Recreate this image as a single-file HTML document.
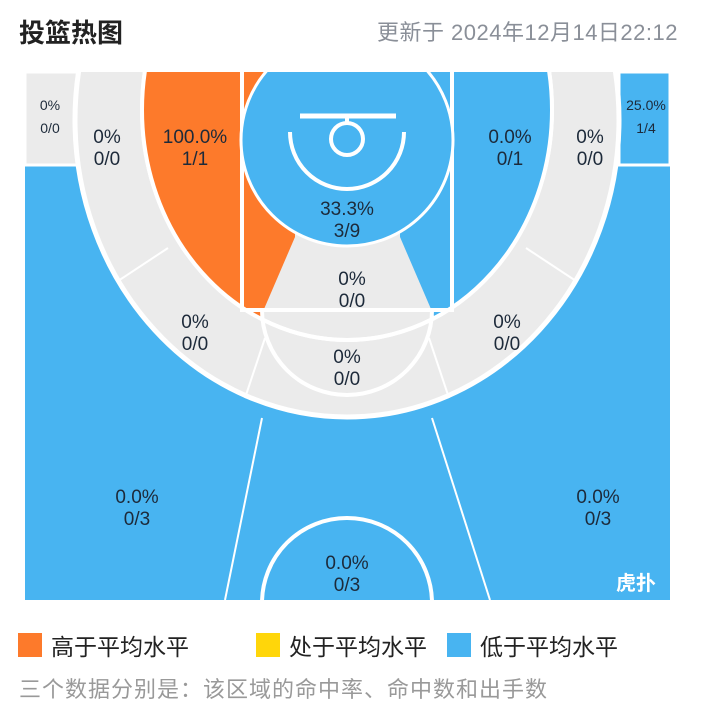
<!DOCTYPE html>
<html><head><meta charset="utf-8"><style>
body{margin:0;width:708px;height:707px;background:#fff;overflow:hidden;font-family:"Liberation Sans","Noto Sans CJK SC",sans-serif;}
.title{position:absolute;left:19px;top:13px;font-size:26px;font-weight:bold;color:#222;}
.upd{position:absolute;right:30px;top:15px;font-size:22px;color:#8a8f98;letter-spacing:0.5px;}
.leg{position:absolute;top:628px;font-size:23px;color:#222;display:flex;align-items:center;}
.sw{width:24px;height:24px;margin-right:9px;}
.note{position:absolute;left:19px;top:672px;font-size:22px;color:#999;letter-spacing:1px;}
</style></head><body>
<div class="title">投篮热图</div>
<div class="upd">更新于 2024年12月14日22:12</div>
<svg id="court" width="708" height="707" style="position:absolute;left:0;top:0">
<defs>
<clipPath id="courtClip"><rect x="25" y="72" width="645" height="528"/></clipPath>
<clipPath id="innerClip"><ellipse cx="347" cy="110" rx="205" ry="230"/></clipPath>
</defs>
<g clip-path="url(#courtClip)" id="zones"></g>
</svg>
<div class="leg" style="left:18px"><div class="sw" style="background:#fd7a2b"></div>高于平均水平</div>
<div class="leg" style="left:256px"><div class="sw" style="background:#ffd60a"></div>处于平均水平</div>
<div class="leg" style="left:447px"><div class="sw" style="background:#48b4f1"></div>低于平均水平</div>
<div class="note">三个数据分别是：该区域的命中率、命中数和出手数</div>
<script>
const zoneNames=["left-corner-3","left-wing-3-upper","left-mid","restricted","right-mid","right-wing-3-upper","right-corner-3","paint","left-elbow-mid","top-mid","right-elbow-mid","left-wing-3","top-3","right-wing-3"];
const made=[0,0,1,3,0,0,1,0,0,0,0,0,0,0];
const attempts=[0,0,1,9,1,0,4,0,0,0,0,3,3,3];
const levels=["none","none","above","below","below","none","below","none","none","none","none","below","below","below"];
const labelX=[50,107,195,347,510,590,646,352,195,347,507,137,598,347];
const labelY=[110,143,143,215,143,143,110,285,328,363,328,503,503,569];
const COL={above:"#fd7a2b",avg:"#ffd60a",below:"#48b4f1",none:"#ebebeb"};
const NS="http://www.w3.org/2000/svg";
const g=document.getElementById('zones');
function mk(t,a,p){const e=document.createElementNS(NS,t);for(const k in a)e.setAttribute(k,a[k]);(p||g).appendChild(e);return e;}
function c(i){return COL[levels[i]];}
let e;
e=mk('rect',{x:25,y:72,width:645,height:528,fill:c(12)});
e=mk('polygon',{points:"25,165 80,165 262,418 225,600 25,600",fill:c(11)});
e=mk('polygon',{points:"670,165 615,165 432,418 490,600 670,600",fill:c(13)});
mk('line',{x1:262,y1:418,x2:225,y2:600,stroke:"#fff","stroke-width":2});
mk('line',{x1:432,y1:418,x2:490,y2:600,stroke:"#fff","stroke-width":2});
e=mk('rect',{x:25,y:72,width:53,height:93,fill:c(0),stroke:"#fff","stroke-width":3});
e=mk('rect',{x:619,y:72,width:51,height:93,fill:c(6),stroke:"#fff","stroke-width":3});
e=mk('ellipse',{cx:347,cy:120,rx:272,ry:297,fill:"#ebebeb",stroke:"#fff","stroke-width":5});
[[118,281,168,248],[245,398,265,338],[576,281,526,248],[449,398,429,338]].forEach(l=>mk('line',{x1:l[0],y1:l[1],x2:l[2],y2:l[3],stroke:"#fff","stroke-width":2}));
e=mk('ellipse',{cx:347,cy:110,rx:205,ry:230,fill:"#ebebeb",stroke:"#fff","stroke-width":4});
const ig=mk('g',{"clip-path":"url(#innerClip)"});
e=mk('polygon',{points:"100,60 295,60 295,237 255,330 100,330",fill:c(2)},ig);
e=mk('polygon',{points:"600,60 400,60 400,237 440,330 600,330",fill:c(4)},ig);
mk('ellipse',{cx:347,cy:110,rx:205,ry:230,fill:"none",stroke:"#fff","stroke-width":4});
mk('rect',{x:242,y:60,width:210,height:250,fill:"none",stroke:"#fff","stroke-width":4});
mk('path',{d:"M262,310 A85,85 0 0 0 432,310",fill:"none",stroke:"#fff","stroke-width":4});
e=mk('circle',{cx:347,cy:140,r:106,fill:c(3),stroke:"#fff","stroke-width":3});
mk('line',{x1:300,y1:116,x2:396,y2:116,stroke:"#fff","stroke-width":5});
mk('line',{x1:347,y1:116,x2:347,y2:122,stroke:"#fff","stroke-width":4});
mk('circle',{cx:347,cy:139,r:16,fill:"none",stroke:"#fff","stroke-width":4});
mk('path',{d:"M290,132 A57,57 0 0 0 404,132",fill:"none",stroke:"#fff","stroke-width":4});
mk('circle',{cx:347,cy:603,r:85,fill:"none",stroke:"#fff","stroke-width":4});
for(let i=0;i<zoneNames.length;i++){
 const small=(i===0||i===6);
 const pct=attempts[i]===0?"0%":(made[i]/attempts[i]*100).toFixed(1)+"%";
 const t=mk('text',{x:labelX[i],y:labelY[i],"text-anchor":"middle",fill:"#1d2a3a","font-size":small?14:19});
 
 
 const a=mk('tspan',{x:labelX[i],dy:0},t);a.textContent=pct;
 const b=mk('tspan',{x:labelX[i],dy:small?23:22},t);b.textContent=made[i]+"/"+attempts[i];
}
e=mk('text',{x:636,y:590,"text-anchor":"middle",fill:"#fff","font-size":20,"font-weight":"bold"});e.textContent="虎扑";


</script>
</body></html>
